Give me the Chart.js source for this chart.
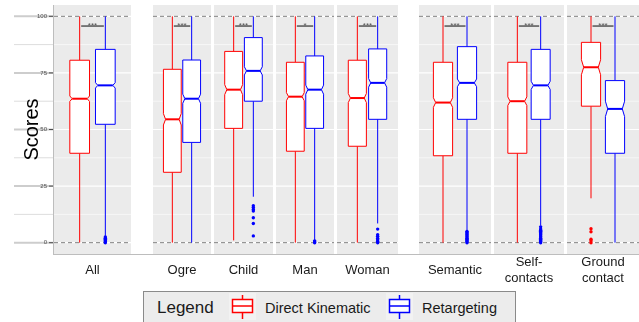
<!DOCTYPE html>
<html>
<head>
<meta charset="utf-8">
<script src="https://cdn.jsdelivr.net/npm/chart.js@4.4.1/dist/chart.umd.min.js"></script>
<style>
body { margin: 0; background: #fff; font-family: "Liberation Sans", Arial, sans-serif; }
#wrap { position: relative; width: 639px; height: 322px; overflow: hidden; }
.panel { position: absolute; top: 5px; }
.panel canvas { display: block; }
.flab { position: absolute; top: 254px; height: 32px; display: flex; align-items: center; justify-content: center;
  text-align: center; white-space: pre-line; font-size: 13px; line-height: 16px; color: #1a1a1a; }
#frame { position: absolute; left: 53px; top: 5px; width: 586px; height: 249px;
  border-left: 1px solid #bdbdbd; border-bottom: 1px solid #bdbdbd; pointer-events: none; }
#legend { position: absolute; left: 143px; top: 291px; width: 373px; height: 40px;
  background: #ececec; border: 1.5px solid #8a8a8a; box-sizing: border-box; }
#legend span { position: absolute; top: 7px; line-height: 18px; color: #1a1a1a; }
#legend svg { position: absolute; top: 1px; }
</style>
</head>
<body>
<div id="wrap">
  <div id="frame"></div>
  <div id="legend">
    <span style="left:13px;font-size:17px">Legend</span>
    <svg id="key0" style="left:85px" width="27" height="27"></svg>
    <span style="left:121px;font-size:14.5px">Direct Kinematic</span>
    <svg id="key1" style="left:242px" width="27" height="27"></svg>
    <span style="left:278px;font-size:14.5px">Retargeting</span>
  </div>
</div>
<script>
// facets and series
const categories = ['All', 'Ogre', 'Child', 'Man', 'Woman', 'Semantic', 'Self-\ncontacts', 'Ground\ncontact'];
const series = ['Direct Kinematic', 'Retargeting'];
const seriesColors = ['#ff0000', '#0000ff'];
const yTicks = [0, 25, 50, 75, 100];

// Direct Kinematic box stats
const dkLow = [0, 0, 1, 0, 0, 0, 0, 19.6];
const dkQ1 = [39.5, 31.1, 50.5, 40.4, 42.6, 38.4, 39.5, 60.3];
const dkMed = [63.6, 54.5, 67.6, 64.5, 63.9, 61.9, 62.5, 77.5];
const dkQ3 = [80.6, 76.6, 84.5, 79.7, 80.6, 79.7, 79.7, 88.5];
const dkHigh = [100, 100, 100, 100, 100, 100, 100, 100];
const dkNotch = [1.2, 2.5, 2.2, 1.8, 2.0, 2.1, 1.9, 3.3];
const dkOut = [[], [], [], [], [], [], [], [6.2, 4.8, 1.5, 0.8, 0]];

// Retargeting box stats
const rtLow = [3, 0, 20.3, 1, 8.5, 5.5, 7.5, 0];
const rtQ1 = [52.3, 44.3, 62.5, 50.5, 54.5, 54.5, 54.5, 39.5];
const rtMed = [69.5, 63.6, 75.9, 67.6, 70.6, 70.6, 69.5, 59.1];
const rtQ3 = [85.4, 80.7, 90.6, 82.5, 85.6, 86.6, 85.4, 71.6];
const rtHigh = [100, 100, 100, 100, 100, 100, 100, 100];
const rtNotch = [1.2, 2.0, 1.8, 2.0, 1.9, 1.7, 1.8, 3.4];
const rtOut = [
  [2.5, 2, 1.5, 1, 0.5, 0],
  [],
  [16.3, 15.5, 14.7, 14, 11, 8.5, 3],
  [0.8, 0.3, 0],
  [6, 3.5, 2.8, 2, 1.3, 0.6, 0],
  [5, 4.5, 4, 3.5, 3, 2.5, 2, 1.5, 1, 0.5, 0],
  [7, 6, 5.5, 5, 4.5, 4, 3.5, 3, 2.5, 2, 1.5, 1, 0.5, 0],
  []
];

// significance between the two series
const sigLabels = ['***', '***', '***', '*', '***', '***', '***', '***'];
const sigLevel = 95.7;

const stats = [
  { low: dkLow, q1: dkQ1, med: dkMed, q3: dkQ3, high: dkHigh, notch: dkNotch, out: dkOut },
  { low: rtLow, q1: rtQ1, med: rtMed, q3: rtQ3, high: rtHigh, notch: rtNotch, out: rtOut }
];
const xPos = [0.8, 1.2];

// layout of the facet strips (pixels)
const panelLeft = [54, 153, 214, 276, 337, 419, 494, 567];
const panelWidth = [77, 58, 59, 58, 61, 72, 70, 72];
const panelHeight = 249;
const yAxisSpace = 54;

const panelPlugin = {
  id: 'panel',
  beforeDraw(chart, args, opts) {
    const { ctx, chartArea: a, scales: { y } } = chart;
    ctx.save();
    if (opts.axis) {
      // light lines left of the plot, tick labels and y title
      yTicks.forEach((t, k) => {
        const py = y.getPixelForValue(t);
        ctx.strokeStyle = '#cdcdcd'; ctx.lineWidth = 2;
        ctx.beginPath(); ctx.moveTo(14, py); ctx.lineTo(a.left, py); ctx.stroke();
        if (k < yTicks.length - 1) {
          const pm = y.getPixelForValue((t + yTicks[k + 1]) / 2);
          ctx.strokeStyle = '#dddddd'; ctx.lineWidth = 1;
          ctx.beginPath(); ctx.moveTo(14, pm); ctx.lineTo(a.left, pm); ctx.stroke();
        }
      });
      ctx.fillStyle = '#4d4d4d';
      ctx.font = '6px "Liberation Sans", Arial, sans-serif';
      ctx.textAlign = 'right'; ctx.textBaseline = 'middle';
      yTicks.forEach(t => {
        const py = y.getPixelForValue(t);
        ctx.fillText(String(t), a.left - 7, py);
        ctx.strokeStyle = '#4d4d4d'; ctx.lineWidth = 1;
        ctx.beginPath(); ctx.moveTo(a.left - 5, py); ctx.lineTo(a.left, py); ctx.stroke();
      });
      ctx.save();
      ctx.translate(32, (a.top + a.bottom) / 2);
      ctx.rotate(-Math.PI / 2);
      ctx.fillStyle = '#000';
      ctx.font = '20px "Liberation Sans", Arial, sans-serif';
      ctx.textAlign = 'center'; ctx.textBaseline = 'middle';
      ctx.fillText('Scores', 0, 0);
      ctx.restore();
    }
    // panel background and grid
    ctx.fillStyle = '#ebebeb';
    ctx.fillRect(a.left, a.top, a.right - a.left, a.bottom - a.top);
    ctx.strokeStyle = '#ffffff';
    yTicks.forEach((t, k) => {
      const py = y.getPixelForValue(t);
      ctx.lineWidth = 1.2;
      ctx.beginPath(); ctx.moveTo(a.left, py); ctx.lineTo(a.right, py); ctx.stroke();
      if (k < yTicks.length - 1) {
        const pm = y.getPixelForValue((t + yTicks[k + 1]) / 2);
        ctx.lineWidth = 0.6;
        ctx.beginPath(); ctx.moveTo(a.left, pm); ctx.lineTo(a.right, pm); ctx.stroke();
      }
    });
    // reference lines at the score limits
    ctx.strokeStyle = '#7f7f7f'; ctx.lineWidth = 1; ctx.setLineDash([4, 3]);
    [yTicks[0], yTicks[yTicks.length - 1]].forEach(t => {
      const py = y.getPixelForValue(t);
      ctx.beginPath(); ctx.moveTo(a.left, py); ctx.lineTo(a.right, py); ctx.stroke();
    });
    ctx.restore();
  },
  beforeDatasetsDraw(chart, args, opts) {
    const { ctx, chartArea: a, scales: { x, y } } = chart;
    const i = opts.facet;
    const bw = 12 + (a.right - a.left) * 0.1;
    const half = bw / 2, ind = bw * 0.12;
    ctx.save();
    const cxs = [];
    stats.forEach((s, k) => {
      const cx = x.getPixelForValue(xPos[k]);
      cxs.push(cx);
      const yl = y.getPixelForValue(s.low[i]), yq1 = y.getPixelForValue(s.q1[i]);
      const ym = y.getPixelForValue(s.med[i]), yq3 = y.getPixelForValue(s.q3[i]);
      const yh = y.getPixelForValue(s.high[i]);
      const yu = y.getPixelForValue(s.med[i] + s.notch[i]), yd = y.getPixelForValue(s.med[i] - s.notch[i]);
      ctx.strokeStyle = seriesColors[k]; ctx.lineWidth = 1;
      ctx.beginPath();
      ctx.moveTo(cx, yh); ctx.lineTo(cx, yq3);
      ctx.moveTo(cx, yq1); ctx.lineTo(cx, yl);
      ctx.stroke();
      const L = cx - half, R = cx + half;
      ctx.beginPath();
      ctx.moveTo(L, yq3); ctx.lineTo(R, yq3); ctx.lineTo(R, yu); ctx.lineTo(R - ind, ym);
      ctx.lineTo(R, yd); ctx.lineTo(R, yq1); ctx.lineTo(L, yq1); ctx.lineTo(L, yd);
      ctx.lineTo(L + ind, ym); ctx.lineTo(L, yu); ctx.closePath();
      ctx.fillStyle = '#ffffff'; ctx.fill(); ctx.stroke();
      ctx.lineWidth = 2;
      ctx.beginPath(); ctx.moveTo(L + ind, ym); ctx.lineTo(R - ind, ym); ctx.stroke();
    });
    // significance bracket
    const sy = y.getPixelForValue(sigLevel);
    ctx.strokeStyle = '#555555'; ctx.lineWidth = 1.5;
    ctx.beginPath(); ctx.moveTo(cxs[0] + 1.5, sy); ctx.lineTo(cxs[1] - 1.5, sy); ctx.stroke();
    ctx.fillStyle = '#555555';
    ctx.font = '8px "Liberation Sans", Arial, sans-serif';
    ctx.textAlign = 'center'; ctx.textBaseline = 'alphabetic';
    ctx.fillText(sigLabels[i], (cxs[0] + cxs[1]) / 2, sy + 1.5);
    ctx.restore();
  }
};

const wrap = document.getElementById('wrap');
categories.forEach((cat, i) => {
  const first = i === 0;
  const div = document.createElement('div');
  div.className = 'panel';
  const left = first ? 0 : panelLeft[i];
  const width = first ? panelLeft[i] + panelWidth[i] : panelWidth[i];
  div.style.left = left + 'px';
  div.style.width = width + 'px';
  div.style.height = panelHeight + 'px';
  const canvas = document.createElement('canvas');
  canvas.width = width; canvas.height = panelHeight;
  div.appendChild(canvas);
  wrap.insertBefore(div, document.getElementById('frame'));

  const lab = document.createElement('div');
  lab.className = 'flab';
  lab.style.left = panelLeft[i] + 'px';
  lab.style.width = panelWidth[i] + 'px';
  lab.textContent = cat;
  wrap.appendChild(lab);

  new Chart(canvas, {
    type: 'scatter',
    data: {
      datasets: series.map((name, k) => ({
        label: name,
        data: stats[k].out[i].map(v => ({ x: xPos[k], y: v })),
        backgroundColor: seriesColors[k],
        borderWidth: 0,
        pointRadius: 1.7
      }))
    },
    options: {
      responsive: false,
      animation: false,
      events: [],
      layout: { autoPadding: false, padding: { left: first ? yAxisSpace : 0, right: 0, top: 0, bottom: 0 } },
      plugins: { legend: { display: false }, tooltip: { enabled: false }, panel: { facet: i, axis: first } },
      scales: {
        x: { type: 'linear', min: 0.4, max: 1.6, display: false },
        y: { min: -5, max: 105, display: false }
      }
    },
    plugins: [panelPlugin]
  });
});

// legend keys
series.forEach((name, k) => {
  const svg = document.getElementById('key' + k);
  const c = seriesColors[k];
  svg.innerHTML = '<rect x="0" y="0" width="27" height="27" fill="#f2f2f2"/>' +
    '<line x1="13.5" y1="2" x2="13.5" y2="26" stroke="' + c + '" stroke-width="1.5"/>' +
    '<rect x="3.5" y="6.5" width="20" height="13" fill="#fff" stroke="' + c + '" stroke-width="1.5"/>' +
    '<line x1="3.5" y1="13" x2="23.5" y2="13" stroke="' + c + '" stroke-width="1.5"/>';
});
</script>
</body>
</html>
